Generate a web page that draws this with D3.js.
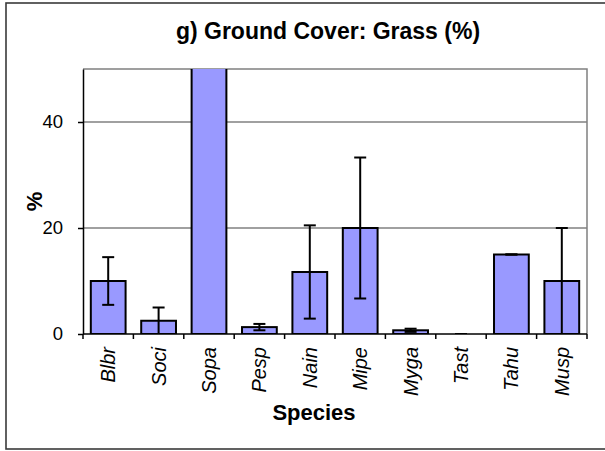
<!DOCTYPE html>
<html>
<head>
<meta charset="utf-8">
<script src="https://cdn.jsdelivr.net/npm/d3@7/dist/d3.min.js"></script>
<style>
  html, body { margin: 0; padding: 0; background: #fff; }
  svg { display: block; font-family: "Liberation Sans", Arial, sans-serif; }
</style>
</head>
<body>
<svg id="chart" width="605" height="451"></svg>
<script>
// Grass ground cover by species: mean % with standard error
const species = ["Blbr", "Soci", "Sopa", "Pesp", "Nain", "Mipe", "Myga", "Tast", "Tahu", "Musp"];
const meanCover = [10, 2.5, 60, 1.3, 11.7, 20, 0.7, 0, 15, 10];
const stdError = [4.5, 2.5, 8, 0.6, 8.8, 13.3, 0.3, 0, 0, 10];
const yTicks = [0, 20, 40];

const titleText = "g) Ground Cover: Grass (%)";
const xTitle = "Species";
const yTitle = "%";

const svg = d3.select("#chart");
const plot = { left: 83, right: 587, top: 69, bottom: 334 };

// outer chart frame
svg.append("rect")
  .attr("x", 6).attr("y", 3)
  .attr("width", 640).attr("height", 446)
  .attr("fill", "#fff")
  .attr("stroke", "#3a3a3a")
  .attr("stroke-width", 1.6);

const x = d3.scaleBand()
  .domain(species)
  .range([plot.left, plot.right])
  .paddingInner(0.31)
  .paddingOuter(0.155);

const y = d3.scaleLinear()
  .domain([0, 50])
  .range([plot.bottom, plot.top]);

const step = x.step();

svg.append("defs").append("clipPath").attr("id", "plotClip")
  .append("rect")
  .attr("x", plot.left).attr("y", plot.top)
  .attr("width", plot.right - plot.left).attr("height", plot.bottom - plot.top);

// gridlines
svg.append("g")
  .selectAll("line")
  .data(yTicks.filter(t => t > 0))
  .join("line")
  .attr("x1", plot.left).attr("x2", plot.right)
  .attr("y1", d => y(d)).attr("y2", d => y(d))
  .attr("stroke", "#808080")
  .attr("stroke-width", 1.5);

// plot border (top and right)
svg.append("path")
  .attr("d", `M${plot.left},${plot.top}H${plot.right}V${plot.bottom}`)
  .attr("fill", "none")
  .attr("stroke", "#808080")
  .attr("stroke-width", 1.5);

const rows = species.map((s, i) => ({ s, v: meanCover[i], e: stdError[i] }));

const marks = svg.append("g").attr("clip-path", "url(#plotClip)");

// bars
marks.selectAll("rect.bar")
  .data(rows.filter(d => d.v > 0))
  .join("rect")
  .attr("class", "bar")
  .attr("x", d => x(d.s))
  .attr("width", x.bandwidth())
  .attr("y", d => y(d.v))
  .attr("height", d => y(0) - y(d.v))
  .attr("fill", "#9999ff")
  .attr("stroke", "#000")
  .attr("stroke-width", 2);

// error bars
const capHalf = 6;
const eb = marks.selectAll("g.err")
  .data(rows)
  .join("g")
  .attr("class", "err")
  .attr("stroke", "#000")
  .attr("stroke-width", 2);

eb.append("line")
  .attr("x1", d => x(d.s) + x.bandwidth() / 2)
  .attr("x2", d => x(d.s) + x.bandwidth() / 2)
  .attr("y1", d => y(Math.max(0, d.v - d.e)))
  .attr("y2", d => y(d.v + d.e));

eb.append("line")
  .attr("x1", d => x(d.s) + x.bandwidth() / 2 - capHalf)
  .attr("x2", d => x(d.s) + x.bandwidth() / 2 + capHalf)
  .attr("y1", d => y(d.v + d.e))
  .attr("y2", d => y(d.v + d.e));

eb.filter(d => d.v - d.e > 0.05).append("line")
  .attr("x1", d => x(d.s) + x.bandwidth() / 2 - capHalf)
  .attr("x2", d => x(d.s) + x.bandwidth() / 2 + capHalf)
  .attr("y1", d => y(d.v - d.e))
  .attr("y2", d => y(d.v - d.e));

// y axis
const yAxis = svg.append("g")
  .attr("transform", `translate(${plot.left},0)`)
  .call(d3.axisLeft(y).tickValues(yTicks).tickSize(5).tickPadding(15).tickSizeOuter(0));
yAxis.select(".domain").attr("stroke", "#000").attr("stroke-width", 1.5);
yAxis.selectAll(".tick line").attr("stroke", "#000").attr("stroke-width", 1.5);
yAxis.selectAll(".tick text")
  .attr("font-family", "Liberation Sans, Arial, sans-serif")
  .attr("font-size", 18.5)
  .attr("fill", "#000");

// x axis line and boundary ticks
svg.append("line")
  .attr("x1", plot.left).attr("x2", plot.right)
  .attr("y1", plot.bottom).attr("y2", plot.bottom)
  .attr("stroke", "#000").attr("stroke-width", 1.5);

const boundaries = species.map(s => x(s) - (step - x.bandwidth()) / 2)
  .concat([x(species[species.length - 1]) + x.bandwidth() + (step - x.bandwidth()) / 2]);
svg.append("g")
  .selectAll("line")
  .data(boundaries)
  .join("line")
  .attr("x1", d => d).attr("x2", d => d)
  .attr("y1", plot.bottom).attr("y2", plot.bottom + 5)
  .attr("stroke", "#000").attr("stroke-width", 1.5);

// category labels, rotated
svg.append("g")
  .selectAll("text")
  .data(species)
  .join("text")
  .attr("transform", d => `translate(${x(d) + x.bandwidth() / 2 + 7},${plot.bottom + 13}) rotate(-90)`)
  .attr("text-anchor", "end")
  .attr("font-size", 20)
  .attr("font-style", "italic")
  .text(d => d);

// titles
svg.append("text")
  .attr("x", 328).attr("y", 39)
  .attr("text-anchor", "middle")
  .attr("font-size", 23)
  .attr("font-weight", "bold")
  .text(titleText);

svg.append("text")
  .attr("x", 314).attr("y", 420)
  .attr("text-anchor", "middle")
  .attr("font-size", 22)
  .attr("font-weight", "bold")
  .text(xTitle);

svg.append("text")
  .attr("transform", `translate(42,${(plot.top + plot.bottom) / 2}) rotate(-90)`)
  .attr("text-anchor", "middle")
  .attr("font-size", 22)
  .attr("font-weight", "bold")
  .text(yTitle);
</script>
</body>
</html>
